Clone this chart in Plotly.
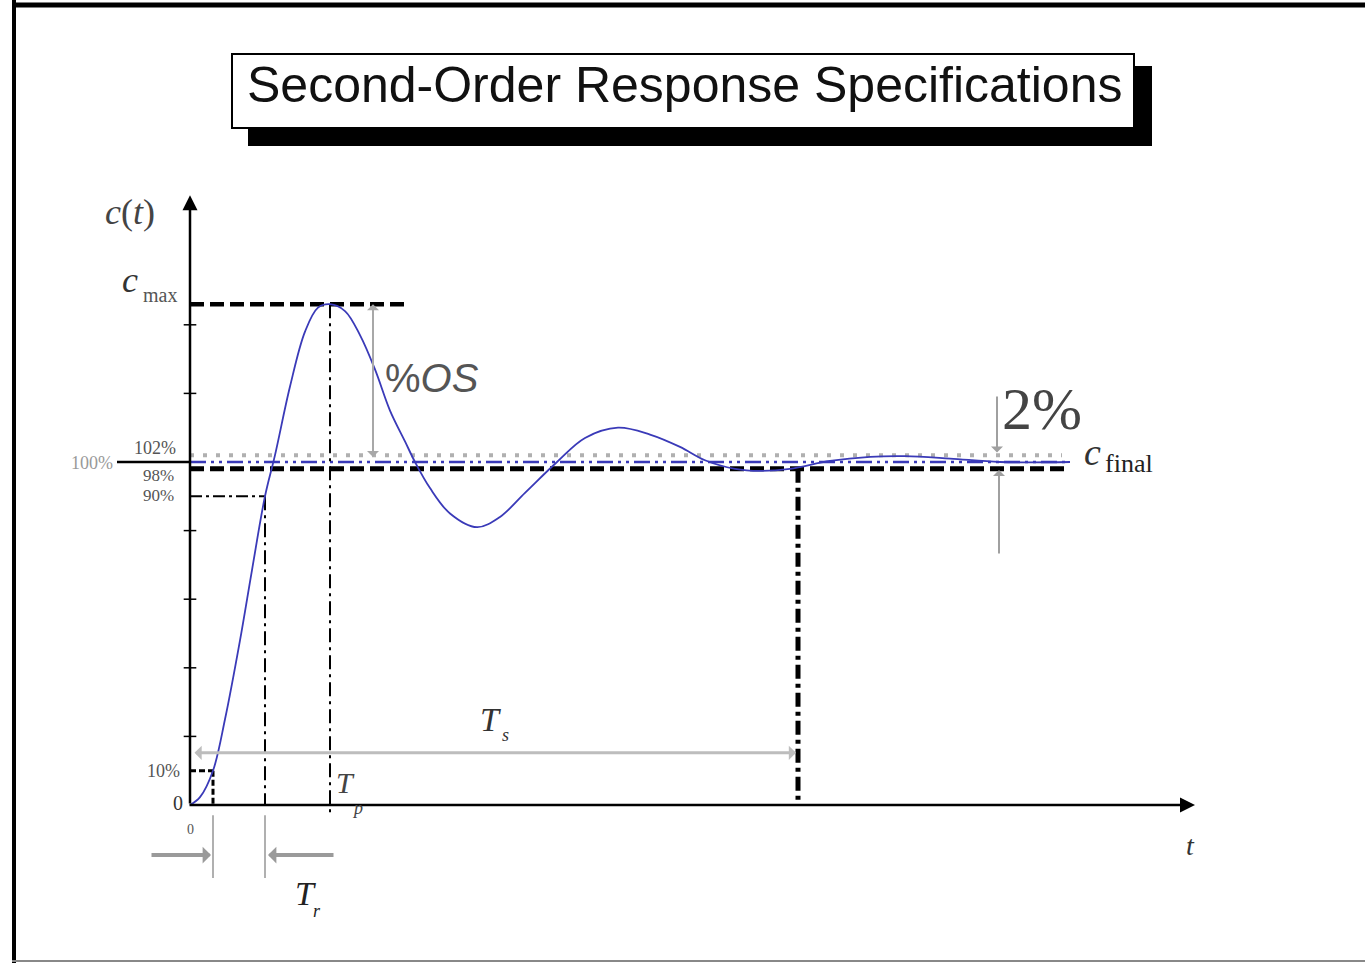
import plotly.graph_objects as go

# step response: time (arbitrary units), c(t) in % of c_final
t = [0, 0.10, 0.23, 0.35, 0.50, 0.62, 0.75, 0.85, 1.00, 1.15, 1.28, 1.40, 1.55, 1.70,
     1.85, 2.00, 2.15, 2.25, 2.40, 2.60, 2.87, 3.10, 3.35, 3.67, 3.95, 4.28, 4.60, 4.90,
     5.15, 5.45, 5.70, 6.00, 6.40, 6.80, 7.15, 7.60, 8.10, 8.80]
c = [0, 2.3, 10, 25, 48, 68.5, 90, 102, 122, 138, 145, 146, 144, 137,
     127, 115, 106, 100, 92.4, 85, 81, 84, 91, 100, 107, 110, 108, 104.4,
     100.5, 98, 97.4, 98, 100.3, 101.5, 101.7, 101, 100, 100]

c_max = 146
c_final = 100
band_hi, band_lo = 102, 98
lvl_90, lvl_10 = 90, 10
t_10, t_90, t_p, t_s = 0.23, 0.75, 1.40, 6.08
t_end = 8.80
y_ticks = [20, 40, 60, 80, 120, 140]

W, H = 1365, 963
BLUE = "#3a3ab8"
GREY = "#b0b0b0"
SERIF = "Liberation Serif"


def paper_x(p):
    return p / W


def paper_y(p):
    return 1 - p / H


fig = go.Figure()


def hline(x0, x1, y, color, width, dash):
    fig.add_trace(go.Scatter(x=[x0, x1], y=[y, y], mode="lines",
                             line=dict(color=color, width=width, dash=dash),
                             hoverinfo="skip"))


def vline(x, y0, y1, color, width, dash):
    fig.add_trace(go.Scatter(x=[x, x], y=[y0, y1], mode="lines",
                             line=dict(color=color, width=width, dash=dash),
                             hoverinfo="skip"))


# tolerance band and reference levels
hline(0, t_end - 0.08, band_hi, GREY, 4, "4px,9px")
hline(-0.73, 0, c_final, "black", 2.5, "solid")
hline(0, t_end, c_final, BLUE, 2.5, "16px,5px,3px,5px,3px,5px")
hline(0, t_end, band_lo, "black", 5, "14px,6px")
hline(0, t_p + 0.8, c_max, "black", 4.5, "14px,6px")
hline(0, t_90, lvl_90, "black", 2, "12px,4px,3px,4px")
hline(0, t_10, lvl_10, "black", 3, "6px,3px")

# time markers
vline(t_p, c_max, -3, "black", 2, "14px,5px,3px,5px")
vline(t_90, lvl_90, 0, "black", 2, "14px,5px,3px,5px")
vline(t_10, lvl_10, 0, "black", 3, "6px,3px")
vline(t_s, band_lo, 0, "black", 5, "14px,5px,4px,5px")
vline(t_10, -3, -21.3, GREY, 2, "solid")
vline(t_90, -3, -21.3, GREY, 2, "solid")

# y ticks
fig.add_trace(go.Scatter(x=[0] * len(y_ticks), y=y_ticks, mode="markers",
                         marker=dict(symbol="line-ew-open", size=9, color="black",
                                     line=dict(color="black", width=1.5)),
                         hoverinfo="skip"))

# response curve
fig.add_trace(go.Scatter(x=t, y=c, mode="lines", line_shape="spline",
                         line=dict(color=BLUE, width=1.8), hoverinfo="skip"))


def arrow(x, y, ax, ay, color, width, side="end", head=2, size=1.0):
    fig.add_annotation(x=x, y=y, ax=ax, ay=ay, xref="x", yref="y", axref="x", ayref="y",
                       text="", showarrow=True, arrowcolor=color, arrowwidth=width,
                       arrowhead=head, arrowsize=size, arrowside=side)


# axes
arrow(0, 177.8, 0, 0, "black", 2.5, size=1.2)
arrow(10.05, 0, -0.02, 0, "black", 2.5, size=1.2)

# measurement arrows
arrow(t_p + 0.43, c_max, t_p + 0.43, 101, "#a8a8a8", 2, side="end+start", head=1)
arrow(6.06, 15.2, 0.03, 15.2, "#bdbdbd", 3, side="end+start", head=1, size=0.8)
arrow(8.07, band_hi + 0.8, 8.07, 119.5, "#a0a0a0", 2, head=1)
arrow(8.09, band_lo - 0.3, 8.09, 72.9, "#a0a0a0", 2, head=1)
arrow(0.21, -14.6, -0.40, -14.6, "#9a9a9a", 4, head=1, size=0.7)
arrow(0.78, -14.6, 1.45, -14.6, "#9a9a9a", 4, head=1, size=0.7)


def label(x, y, text, size, color="#333", font=SERIF, xanchor="center", **kw):
    fig.add_annotation(x=x, y=y, xref="x", yref="y", text=text, showarrow=False,
                       font=dict(family=font, size=size, color=color),
                       xanchor=xanchor, yanchor="middle", borderpad=0, **kw)


# level labels
label(-0.13, band_hi + 2.2, "102%", 18, color="#555", xanchor="right")
label(-0.76, c_final - 0.3, "100%", 18, color="#999", xanchor="right")
label(-0.15, band_lo - 2.0, "98%", 17, color="#555", xanchor="right")
label(-0.15, lvl_90 + 0.2, "90%", 17, color="#555", xanchor="right")
label(-0.09, lvl_10, "10%", 18, color="#555", xanchor="right")
label(-0.06, 0.5, "0", 20, color="#333", xanchor="right")
label(0, -7.0, "0", 14, color="#555")

# symbol labels
label(-0.60, 173, "<i>c</i>(<i>t</i>)", 36, color="#444")
label(-0.60, 153, "<i>c</i>", 36, color="#333")
label(-0.30, 148.8, "max", 20, color="#555")
label(3.00, 25.0, "<i>T</i>", 34, color="#333")
label(3.15, 20.5, "<i>s</i>", 18, color="#333")
label(1.55, 6.7, "<i>T</i>", 30, color="#444")
label(1.67, -0.8, "<i>p</i>", 18, color="#444")
label(1.15, -25.9, "<i>T</i>", 34, color="#222")
label(1.27, -31.0, "<i>r</i>", 18, color="#222")
label(10.0, -11.7, "<i>t</i>", 28, color="#333")
label(2.42, 124.5, "%<i>OS</i>", 40, color="#555", font="Liberation Sans")
label(8.52, 115.5, "2%", 60, color="#444")
label(9.02, 102.8, "<i>c</i>", 38, color="#333")
label(9.39, 99.5, "final", 26, color="#222")

# frame and title box
fig.add_shape(type="line", xref="paper", yref="paper", x0=paper_x(14), x1=paper_x(14),
              y0=0, y1=1, line=dict(color="black", width=4))
fig.add_shape(type="line", xref="paper", yref="paper", x0=paper_x(12), x1=1,
              y0=paper_y(5), y1=paper_y(5), line=dict(color="black", width=5))
fig.add_shape(type="line", xref="paper", yref="paper", x0=paper_x(12), x1=1,
              y0=paper_y(961), y1=paper_y(961), line=dict(color="#888", width=2))
fig.add_shape(type="rect", xref="paper", yref="paper", x0=paper_x(248), x1=paper_x(1152),
              y0=paper_y(146), y1=paper_y(66), fillcolor="black", line=dict(width=0))
fig.add_shape(type="rect", xref="paper", yref="paper", x0=paper_x(232), x1=paper_x(1134),
              y0=paper_y(128), y1=paper_y(54), fillcolor="white",
              line=dict(color="black", width=2))
fig.add_annotation(x=paper_x(684), y=paper_y(85), xref="paper", yref="paper",
                   text="Second-Order Response Specifications", showarrow=False,
                   font=dict(family="Liberation Sans", size=50, color="#111"),
                   xanchor="center", yanchor="middle")

fig.update_layout(
    width=W, height=H,
    margin=dict(l=0, r=0, t=0, b=0),
    paper_bgcolor="white", plot_bgcolor="white",
    showlegend=False,
    xaxis=dict(range=[-1.90, 11.75], visible=False, fixedrange=True),
    yaxis=dict(range=[-46.06, 234.69], visible=False, fixedrange=True),
)

fig.write_html("out.html", config={"displayModeBar": False},
               post_script="document.body.style.margin='0px';")
